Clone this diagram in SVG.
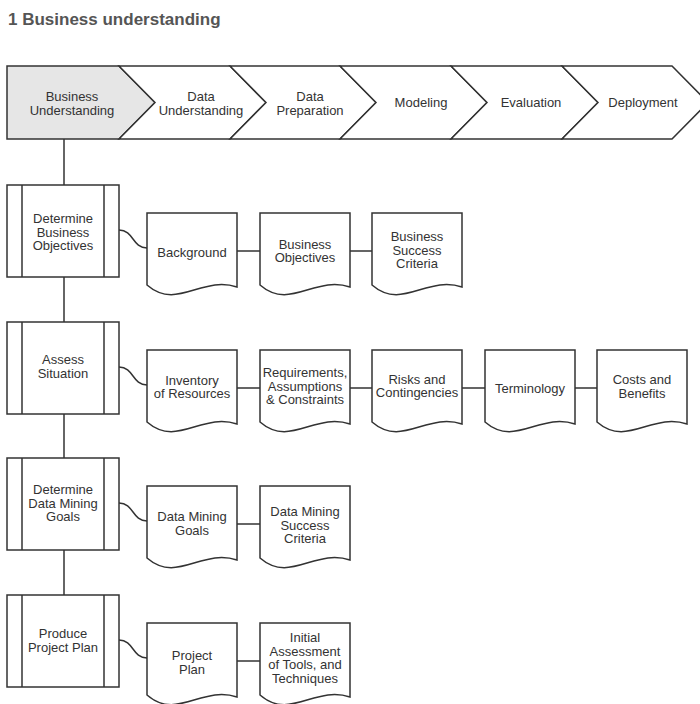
<svg xmlns="http://www.w3.org/2000/svg" xmlns:xlink="http://www.w3.org/1999/xlink" width="700" height="704" viewBox="0 0 700 704">
<style>
.t{font-family:"Liberation Sans",Arial,sans-serif;font-size:13px;fill:#333;text-anchor:middle}
.title{font-family:"Liberation Sans",Arial,sans-serif;font-size:17px;font-weight:bold;fill:#555}
.sh{fill:#fff;stroke:#333;stroke-width:1.5;stroke-linejoin:miter}
.cur{fill:#e6e6e6;stroke:#333;stroke-width:1.5}
.ln{fill:none;stroke:#333;stroke-width:1.5}
</style>
<defs>
<path id="doc" d="M0,0 H90 V74 C55,62 30,98 0,72 Z"/>
<g id="proc"><rect x="0" y="0" width="112" height="92"/><line x1="15" y1="0" x2="15" y2="92"/><line x1="97" y1="0" x2="97" y2="92"/></g>
</defs>
<rect width="700" height="704" fill="#fff"/>
<text class="title" x="8" y="25">1 Business understanding</text>

<g id="phases">
<g id="ph1"><polygon class="cur" points="7,66 119,66 155,102.5 119,139 7,139"/><text class="t" x="72" y="100.5">Business</text><text class="t" x="72" y="114.5">Understanding</text></g>
<g id="ph2"><polygon class="sh" points="119,66 230,66 266,102.5 230,139 119,139 155,102.5"/><text class="t" x="201" y="100.5">Data</text><text class="t" x="201" y="114.5">Understanding</text></g>
<g id="ph3"><polygon class="sh" points="230,66 340,66 376,102.5 340,139 230,139 266,102.5"/><text class="t" x="310" y="100.5">Data</text><text class="t" x="310" y="114.5">Preparation</text></g>
<g id="ph4"><polygon class="sh" points="340,66 451,66 487,102.5 451,139 340,139 376,102.5"/><text class="t" x="421" y="106.5">Modeling</text></g>
<g id="ph5"><polygon class="sh" points="451,66 562,66 598,102.5 562,139 451,139 487,102.5"/><text class="t" x="531" y="106.5">Evaluation</text></g>
<g id="ph6"><polygon class="sh" points="562,66 672,66 708,102.5 672,139 562,139 598,102.5"/><text class="t" x="643" y="106.5">Deployment</text></g>
</g>

<g id="connectors" class="ln">
<line x1="64" y1="139" x2="64" y2="185"/>
<line x1="64" y1="277" x2="64" y2="322"/>
<line x1="64" y1="414" x2="64" y2="458"/>
<line x1="64" y1="550" x2="64" y2="595"/>
<path d="M119,230 C134,230 132,248 147,248"/>
<path d="M237,251 H260 M350,251 H372"/>
<path d="M119,367 C134,367 132,385 147,385"/>
<path d="M237,388 H260 M350,388 H372 M462,388 H485 M575,388 H597"/>
<path d="M119,503 C134,503 132,521 147,521"/>
<path d="M237,524 H260"/>
<path d="M119,640 C134,640 132,658 147,658"/>
<path d="M237,661 H260"/>
</g>

<g id="p1"><use xlink:href="#proc" class="sh" x="7" y="185"/><text class="t" x="63" y="223">Determine</text><text class="t" x="63" y="236.5">Business</text><text class="t" x="63" y="250">Objectives</text></g>
<g id="d11"><use xlink:href="#doc" class="sh" x="147" y="213"/><text class="t" x="192" y="256.5">Background</text></g>
<g id="d12"><use xlink:href="#doc" class="sh" x="260" y="213"/><text class="t" x="305" y="248.5">Business</text><text class="t" x="305" y="262">Objectives</text></g>
<g id="d13"><use xlink:href="#doc" class="sh" x="372" y="213"/><text class="t" x="417" y="241">Business</text><text class="t" x="417" y="254.5">Success</text><text class="t" x="417" y="268">Criteria</text></g>

<g id="p2"><use xlink:href="#proc" class="sh" x="7" y="322"/><text class="t" x="63" y="364">Assess</text><text class="t" x="63" y="377.5">Situation</text></g>
<g id="d21"><use xlink:href="#doc" class="sh" x="147" y="350"/><text class="t" x="192" y="384.5">Inventory</text><text class="t" x="192" y="398">of Resources</text></g>
<g id="d22"><use xlink:href="#doc" class="sh" x="260" y="350"/><text class="t" x="305" y="377">Requirements,</text><text class="t" x="305" y="390.5">Assumptions</text><text class="t" x="305" y="404">&amp; Constraints</text></g>
<g id="d23"><use xlink:href="#doc" class="sh" x="372" y="350"/><text class="t" x="417" y="383.5">Risks and</text><text class="t" x="417" y="397">Contingencies</text></g>
<g id="d24"><use xlink:href="#doc" class="sh" x="485" y="350"/><text class="t" x="530" y="392.5">Terminology</text></g>
<g id="d25"><use xlink:href="#doc" class="sh" x="597" y="350"/><text class="t" x="642" y="384">Costs and</text><text class="t" x="642" y="397.5">Benefits</text></g>

<g id="p3"><use xlink:href="#proc" class="sh" x="7" y="458"/><text class="t" x="63" y="494">Determine</text><text class="t" x="63" y="507.5">Data Mining</text><text class="t" x="63" y="521">Goals</text></g>
<g id="d31"><use xlink:href="#doc" class="sh" x="147" y="486"/><text class="t" x="192" y="521">Data Mining</text><text class="t" x="192" y="534.5">Goals</text></g>
<g id="d32"><use xlink:href="#doc" class="sh" x="260" y="486"/><text class="t" x="305" y="516">Data Mining</text><text class="t" x="305" y="529.5">Success</text><text class="t" x="305" y="543">Criteria</text></g>

<g id="p4"><use xlink:href="#proc" class="sh" x="7" y="595"/><text class="t" x="63" y="638">Produce</text><text class="t" x="63" y="651.5">Project Plan</text></g>
<g id="d41"><use xlink:href="#doc" class="sh" x="147" y="623"/><text class="t" x="192" y="660">Project</text><text class="t" x="192" y="673.5">Plan</text></g>
<g id="d42"><use xlink:href="#doc" class="sh" x="260" y="623"/><text class="t" x="305" y="642">Initial</text><text class="t" x="305" y="655.5">Assessment</text><text class="t" x="305" y="669">of Tools, and</text><text class="t" x="305" y="682.5">Techniques</text></g>
</svg>
